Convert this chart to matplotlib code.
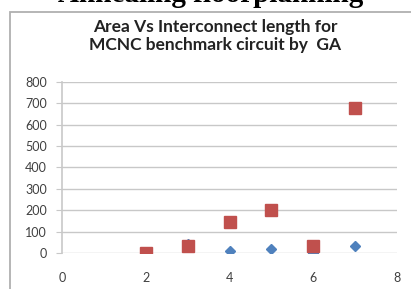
import matplotlib
matplotlib.use("Agg")
import matplotlib.pyplot as plt
from matplotlib.patches import Rectangle

# data
x_vals = [2, 3, 4, 5, 6, 7]
area = [0, 40, 10, 18, 0, 35]
wirelength = [0, 31, 146, 200, 31, 679]

x_ticks = [0, 2, 4, 6, 8]
y_ticks = [0, 100, 200, 300, 400, 500, 600, 700, 800]

W, H = 411, 289
fig = plt.figure(figsize=(W / 100, H / 100), dpi=100)
fig.patch.set_facecolor("white")

# cut-off heading above the chart box
fig.text(211 / W, 1 - 1.8 / H, "Annealing floorplanning", ha="center", va="baseline",
         family="Liberation Serif", weight="bold", fontsize=21, color="black")

# chart border (runs past the right and bottom edges)
fig.patches.append(Rectangle((10 / W, -0.1), 1.2, 1 - 12 / H + 0.1, transform=fig.transFigure,
                             fill=False, edgecolor="#b0b0b0", linewidth=1.3))

fig.text(215 / W, 1 - 27 / H, "Area Vs Interconnect length for", ha="center", va="center",
         family="Lato", weight="bold", fontsize=12.5, color="#222222")
fig.text(215 / W, 1 - 45 / H, "MCNC benchmark circuit by  GA", ha="center", va="center",
         family="Lato", weight="bold", fontsize=12.5, color="#222222")

ax = fig.add_axes([62 / W, (H - 253) / H, (397 - 62) / W, (253 - 81.7) / H])
ax.plot(x_vals, area, linestyle="none", marker="D", markersize=5.5, color="#4f81bd",
        markeredgecolor="#4f81bd")
ax.plot(x_vals, wirelength, linestyle="none", marker="s", markersize=8.3, color="#c0504d",
        markeredgecolor="#c0504d")

ax.set_xlim(0, 8)
ax.set_ylim(0, 800)
ax.set_xticks(x_ticks)
ax.set_yticks(y_ticks)
ax.grid(axis="y", color="#c8c8c8", linewidth=1)
ax.set_axisbelow(True)
for side in ["top", "right", "bottom"]:
    ax.spines[side].set_visible(False)
ax.spines["left"].set_color("#c8c8c8")
ax.spines["left"].set_linewidth(1.2)
ax.tick_params(axis="y", length=4, color="#c8c8c8", labelsize=9, labelcolor="#404040", pad=7)
ax.tick_params(axis="x", length=0, labelsize=9, labelcolor="#404040", pad=14)
for lab in ax.get_xticklabels() + ax.get_yticklabels():
    lab.set_family("Lato")

fig.savefig("out.png", dpi=100)
